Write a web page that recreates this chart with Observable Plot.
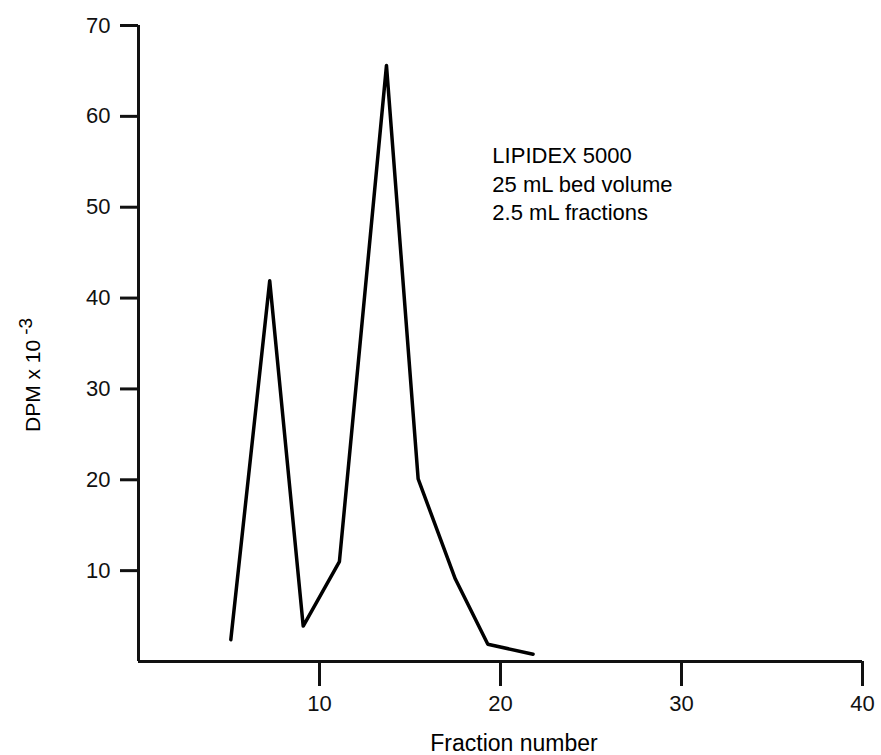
<!DOCTYPE html>
<html>
<head>
<meta charset="utf-8">
<script src="https://cdn.jsdelivr.net/npm/d3@7"></script>
<script src="https://cdn.jsdelivr.net/npm/@observablehq/plot@0.6"></script>
<style>
  html, body { margin: 0; padding: 0; background: #fff; }
  #chart svg { display: block; }
</style>
</head>
<body>
<div id="chart"></div>
<script>
// Elution profile: radioactivity per fraction
const fractions = [5.1, 7.25, 9.1, 11.1, 13.7, 15.45, 17.5, 19.3, 21.8];
const dpm = [2.4, 41.9, 3.9, 11.0, 65.6, 20.1, 9.1, 1.9, 0.8];

const xTicks = [10, 20, 30, 40];
const yTicks = [10, 20, 30, 40, 50, 60, 70];

const noteLines = ["LIPIDEX 5000", "25 mL bed volume", "2.5 mL fractions"];
const xLabel = "Fraction number";
const yLabel = "DPM x 10";
const yLabelExp = "-3";

const data = fractions.map((f, i) => ({fraction: f, dpm: dpm[i]}));

const font = "'Liberation Sans', Arial, sans-serif";

const chart = Plot.plot({
  width: 881,
  height: 755,
  marginLeft: 138,
  marginRight: 19,
  marginTop: 25,
  marginBottom: 94,
  style: {fontFamily: font, fontSize: "22px", color: "#111", background: "#fff"},
  x: {domain: [0, 40]},
  y: {domain: [0, 70]},
  marks: [
    Plot.axisY(yTicks, {tickSize: 18, tickPadding: 10, strokeWidth: 3, fontSize: 22, label: null}),
    Plot.axisX(xTicks, {tickSize: 25, tickPadding: 9, strokeWidth: 3, fontSize: 22, label: null}),
    Plot.ruleY([0], {strokeWidth: 3}),
    Plot.ruleX([0], {y1: 0, y2: 70, strokeWidth: 3}),
    Plot.line(data, {x: "fraction", y: "dpm", strokeWidth: 3.5, stroke: "#000"}),
    Plot.text([noteLines.join("\n")], {
      x: 19.55, y: 57.1, textAnchor: "start", lineAnchor: "top",
      lineHeight: 1.3, fontSize: 22, fill: "#000"
    })
  ]
});

const svg = d3.select(chart);

// Make sure tick labels use the larger size
svg.selectAll('g[aria-label$="tick label"]').attr("font-size", 22);

// Axis titles, with a superscript exponent on the vertical one
svg.append("text")
  .attr("x", 514).attr("y", 751)
  .attr("text-anchor", "middle")
  .attr("font-family", font).attr("font-size", 23).attr("fill", "#000")
  .text(xLabel);

const yt = svg.append("text")
  .attr("transform", "translate(40,432) rotate(-90)")
  .attr("text-anchor", "start")
  .attr("font-family", font).attr("font-size", 21).attr("fill", "#000");
yt.append("tspan").text(yLabel);
yt.append("tspan").attr("dx", 5).attr("dy", -8).attr("font-size", 19).text(yLabelExp);

document.getElementById("chart").appendChild(chart);
</script>
</body>
</html>
